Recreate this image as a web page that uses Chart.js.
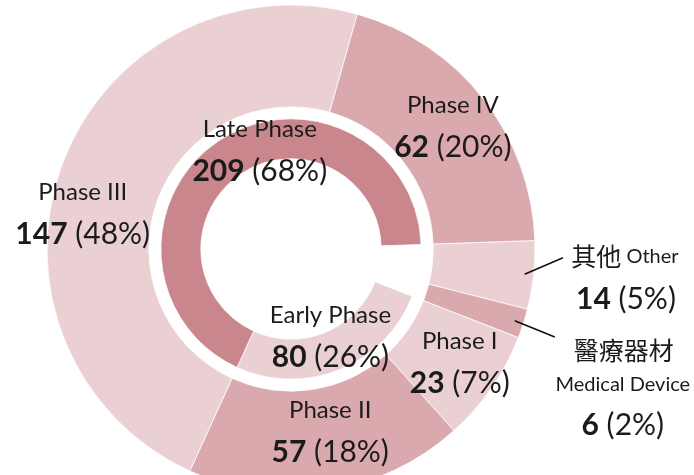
<!DOCTYPE html>
<html>
<head>
<meta charset="utf-8">
<script src="https://cdn.jsdelivr.net/npm/chart.js@4.4.0/dist/chart.umd.min.js"></script>
<style>
  html, body { margin: 0; padding: 0; background: #fff; overflow: hidden; }
  .wrap { position: relative; width: 694px; height: 475px; overflow: hidden; }
  canvas { position: absolute; left: 0; top: 0; }
</style>
</head>
<body>
<div class="wrap"><canvas class="js-chart" width="694" height="500"></canvas></div>
<script>
// outer ring, clockwise from 3 o'clock
const outerNames = ['Other', 'Medical Device', 'Phase I', 'Phase II', 'Phase III', 'Phase IV'];
const outerNamesZh = ['其他', '醫療器材', '', '', '', ''];
const outerValues = [14, 6, 23, 57, 147, 62];
const outerColors = ['#ebd0d3', '#daa9ad', '#ebd0d3', '#daa9ad', '#ebd0d3', '#daa9ad'];

// inner ring; first slice is the blank part (Other + Medical Device)
const innerNames = ['', 'Early Phase', 'Late Phase'];
const innerValues = [20, 80, 209];
const innerColors = ['rgba(0,0,0,0)', '#ebd0d3', '#c9868d'];

const total = outerValues.reduce((a, b) => a + b, 0);
const pct = v => Math.round(v / total * 100);

const nameFont = '24px Lato';
const boldFont = 'bold 30px Lato';
const pctFont = '30px Lato';
const cjkFont = '25px "Noto Sans CJK TC"';
const smallFont = '20px Lato';
const textColor = '#1b1b1b';

// label block offsets from each arc's centre point
const ringLabels = [
  { ring: 0, index: 5, dx: 10, dy: -4 },
  { ring: 0, index: 4, dx: -27, dy: 31 },
  { ring: 0, index: 3, dx: 10, dy: -9 },
  { ring: 0, index: 2, dx: 10, dy: 3 },
  { ring: 2, index: 1, dx: -2, dy: -15 },
  { ring: 2, index: 2, dx: 30, dy: -7 },
];

const sideLabels = [
  { index: 0, lead: [80, -12], lines: [[142, -13, 'zhname'], [143, 30, 'value']] },
  { index: 1, lead: [80, 29], lines: [[149, 42, 'zh'], [148, 77, 'name'], [148, 117, 'value']] },
];

function drawParts(ctx, x, y, parts) {
  let width = 0;
  parts.forEach(([text, font]) => {
    ctx.font = font;
    width += ctx.measureText(text).width;
  });
  let cx = x - width / 2;
  ctx.textAlign = 'left';
  ctx.textBaseline = 'middle';
  ctx.fillStyle = textColor;
  parts.forEach(([text, font]) => {
    ctx.font = font;
    ctx.fillText(text, cx, y);
    cx += ctx.measureText(text).width;
  });
}

function valueParts(v) {
  return [[String(v), boldFont], [' (' + pct(v) + '%)', pctFont]];
}

const labelPlugin = {
  id: 'ringLabels',
  afterDatasetsDraw(chart) {
    const { ctx } = chart;
    ctx.save();
    ringLabels.forEach(({ ring, index, dx, dy }) => {
      const arc = chart.getDatasetMeta(ring).data[index];
      const c = arc.getCenterPoint();
      const name = ring === 0 ? outerNames[index] : innerNames[index];
      const value = ring === 0 ? outerValues[index] : innerValues[index];
      drawParts(ctx, c.x + dx, c.y + dy - 21, [[name, nameFont]]);
      drawParts(ctx, c.x + dx, c.y + dy + 21, valueParts(value));
    });

    sideLabels.forEach(({ index, lead, lines }) => {
      const arc = chart.getDatasetMeta(0).data[index];
      const c = arc.getCenterPoint();
      const { x, y, startAngle, endAngle, outerRadius } = arc.getProps(['x', 'y', 'startAngle', 'endAngle', 'outerRadius']);
      const mid = (startAngle + endAngle) / 2;
      const r = outerRadius - 9;
      ctx.beginPath();
      ctx.moveTo(x + Math.cos(mid) * r, y + Math.sin(mid) * r);
      ctx.lineTo(c.x + lead[0], c.y + lead[1]);
      ctx.strokeStyle = '#111';
      ctx.lineWidth = 1.6;
      ctx.stroke();
      lines.forEach(([dx, dy, kind]) => {
        let parts;
        if (kind === 'zhname') parts = [[outerNamesZh[index], cjkFont], [' ' + outerNames[index], smallFont]];
        else if (kind === 'zh') parts = [[outerNamesZh[index], cjkFont]];
        else if (kind === 'name') parts = [[outerNames[index], smallFont]];
        else parts = valueParts(outerValues[index]);
        drawParts(ctx, c.x + dx, c.y + dy, parts);
      });
    });
    ctx.restore();
  },
};

const ctx = document.querySelector('.js-chart').getContext('2d');

new Chart(ctx, {
  type: 'doughnut',
  data: {
    labels: outerNames,
    datasets: [
      {
        data: outerValues,
        backgroundColor: outerColors,
        borderColor: 'rgba(255,255,255,0.75)',
        borderWidth: 1,
        weight: 102,
        clip: false,
      },
      {
        data: [1],
        backgroundColor: 'rgba(0,0,0,0)',
        borderWidth: 0,
        weight: 12,
        clip: false,
      },
      {
        data: innerValues,
        backgroundColor: innerColors,
        borderColor: ['rgba(0,0,0,0)', 'rgba(255,255,255,0.75)', 'rgba(255,255,255,0.75)'],
        borderWidth: 1,
        weight: 40,
        clip: false,
      },
    ],
  },
  options: {
    responsive: false,
    animation: false,
    devicePixelRatio: 1,
    rotation: 88,
    radius: 244,
    cutout: 90,
    layout: { padding: { left: 47, right: 159, top: 5, bottom: 7 } },
    events: [],
    plugins: {
      legend: { display: false },
      tooltip: { enabled: false },
    },
  },
  plugins: [labelPlugin],
});
</script>
</body>
</html>
